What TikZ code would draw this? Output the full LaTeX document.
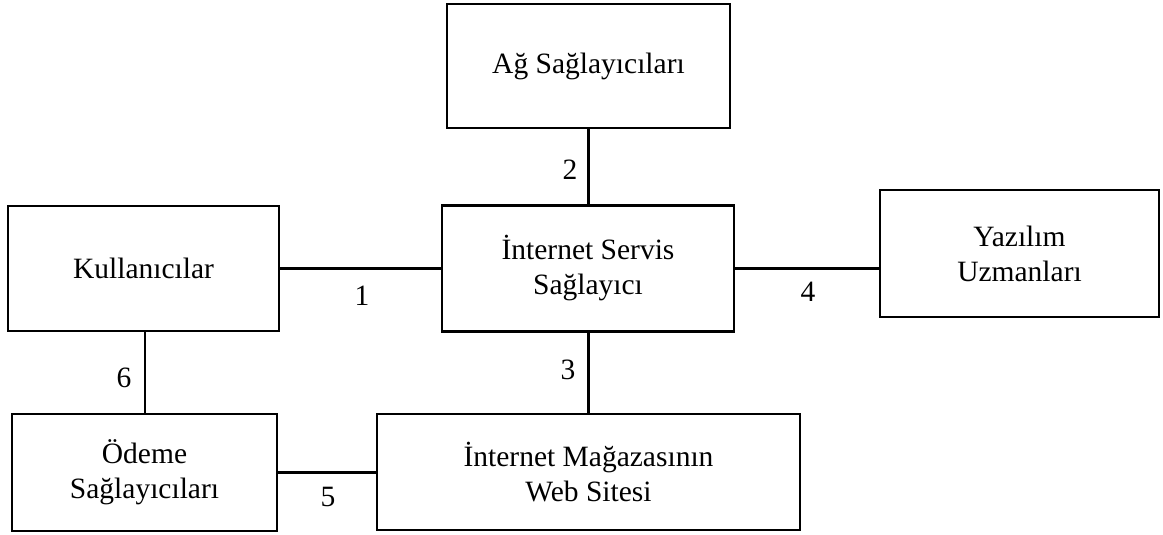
\documentclass[tikz,border=0pt]{standalone}
\usepackage{fontspec}
\setmainfont{Liberation Serif}
\usepackage{tikz}
\usetikzlibrary{positioning}

\tikzset{
    kutu/.style={draw, line width=2.6pt, align=center, inner sep=0pt,
        font=\fontsize{29.5}{35}\selectfont},
    etiket/.style={font=\fontsize{29.5}{35}\selectfont, inner sep=0pt},
    baglanti/.style={line width=2.8pt}
}

\begin{document}
\begin{tikzpicture}[x=1pt, y=-1pt]
            \useasboundingbox (0,0) rectangle (1163,535);

            % Kutular
            \node[kutu, minimum width=283pt, minimum height=124pt] (ag) at (588.5,66) {Ağ Sağlayıcıları};
            \node[kutu, minimum width=271pt, minimum height=125pt] (kul) at (143.5,268.5) {Kullanıcılar};
            \node[kutu, minimum width=292pt, minimum height=126pt] (iss) at (588,268.5) {İnternet Servis\\Sağlayıcı};
            \node[kutu, minimum width=279pt, minimum height=127pt] (yaz) at (1019.5,253.5) {Yazılım\\Uzmanları};
            \node[kutu, minimum width=265pt, minimum height=117pt] (ode) at (144.5,472.5) {Ödeme\\Sağlayıcıları};
            \node[kutu, minimum width=423pt, minimum height=116pt] (mag) at (588.5,472) {İnternet Mağazasının\\Web Sitesi};

            % Baglantilar
            \draw[baglanti] (kul.east) -- (kul.east -| iss.west);
            \draw[baglanti] (ag.south) -- (ag.south |- iss.north);
            \draw[baglanti] (ag.south |- iss.south) -- (ag.south |- mag.north);
            \draw[baglanti] (iss.east) -- (iss.east -| yaz.west);
            \draw[baglanti] (kul.south -| 145,0) -- (ode.north -| 145,0);
            \draw[baglanti] (ode.east) -- (ode.east -| mag.west);

            % Numaralar
            \node[etiket] (n1) at (362,296) {1};
            \node[etiket] (n2) at (570,170) {2};
            \node[etiket] (n3) at (568,370) {3};
            \node[etiket] (n4) at (808,292) {4};
            \node[etiket] (n5) at (328,497) {5};
            \node[etiket] (n6) at (124,378) {6};
\end{tikzpicture}
\end{document}
